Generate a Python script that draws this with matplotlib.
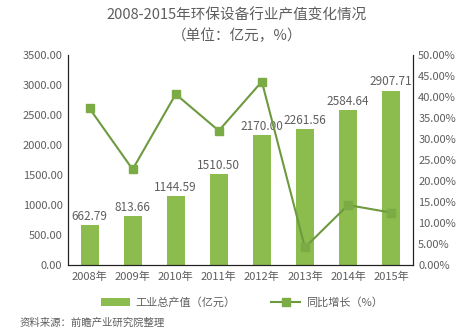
import matplotlib
matplotlib.use("Agg")
import matplotlib.pyplot as plt
from matplotlib.lines import Line2D
from matplotlib.patches import Patch

plt.rcParams['font.family'] = ['Noto Sans CJK SC', 'DejaVu Sans']

years = ["2008年", "2009年", "2010年", "2011年", "2012年", "2013年", "2014年", "2015年"]
output_value = [662.79, 813.66, 1144.59, 1510.50, 2170.00, 2261.56, 2584.64, 2907.71]
growth = [37.3, 22.8, 40.7, 32.0, 43.7, 4.2, 14.3, 12.5]
left_ticks = [0, 500, 1000, 1500, 2000, 2500, 3000, 3500]
right_ticks = [0, 5, 10, 15, 20, 25, 30, 35, 40, 45, 50]

text_color = "#5e5e5e"
bar_color = "#8cbb4e"
line_color = "#6e9a3f"
marker_color = "#7aab45"

fig = plt.figure(figsize=(4.74, 3.36), dpi=100)
ax = fig.add_axes([0.1435, 0.211, 0.727, 0.625])
x = list(range(len(years)))
ax.bar(x, output_value, width=0.42, color=bar_color, zorder=2)
for xi, v in zip(x, output_value):
    ax.text(xi, v + 40, f"{v:.2f}", ha="center", va="bottom", fontsize=8.5, color=text_color)
ax.set_ylim(0, 3500)
ax.set_xlim(-0.5, len(years) - 0.5)
ax.set_yticks(left_ticks)
ax.set_yticklabels([f"{t:.2f}" for t in left_ticks])
ax.set_xticks(x)
ax.set_xticklabels(years)

ax2 = ax.twinx()
ax2.plot(x, growth, color=line_color, lw=1.5, marker="s", markersize=6,
         markerfacecolor=marker_color, markeredgecolor=marker_color, zorder=3)
ax2.set_ylim(0, 50)
ax2.set_yticks(right_ticks)
ax2.set_yticklabels([f"{t:.2f}%" for t in right_ticks])

for a in (ax, ax2):
    a.spines['top'].set_visible(False)
    for s in ('left', 'right', 'bottom'):
        a.spines[s].set_color("#222222")
        a.spines[s].set_linewidth(0.8)
    a.tick_params(axis='both', length=0, labelsize=8, colors=text_color, pad=4)
ax.tick_params(axis='x', pad=5)

fig.text(0.5, 0.952, "2008-2015年环保设备行业产值变化情况", ha="center", va="center",
         fontsize=10.5, color=text_color)
fig.text(0.5, 0.893, "（单位：亿元，%）", ha="center", va="center",
         fontsize=10.5, color=text_color)

handles = [Patch(facecolor=bar_color, edgecolor='none'),
           Line2D([0], [0], color=line_color, lw=1.5, marker="s", markersize=6,
                  markerfacecolor=marker_color, markeredgecolor=marker_color)]
fig.legend(handles, ["工业总产值（亿元）", "同比增长（%）"], loc="center",
           bbox_to_anchor=(0.51, 0.1), ncol=2, frameon=False, fontsize=8,
           labelcolor=text_color, handlelength=2.6, handletextpad=0.5,
           columnspacing=3.2)

fig.text(0.042, 0.04, "资料来源：前瞻产业研究院整理", ha="left", va="center",
         fontsize=7.5, color=text_color)

fig.savefig("out.png", dpi=100)
